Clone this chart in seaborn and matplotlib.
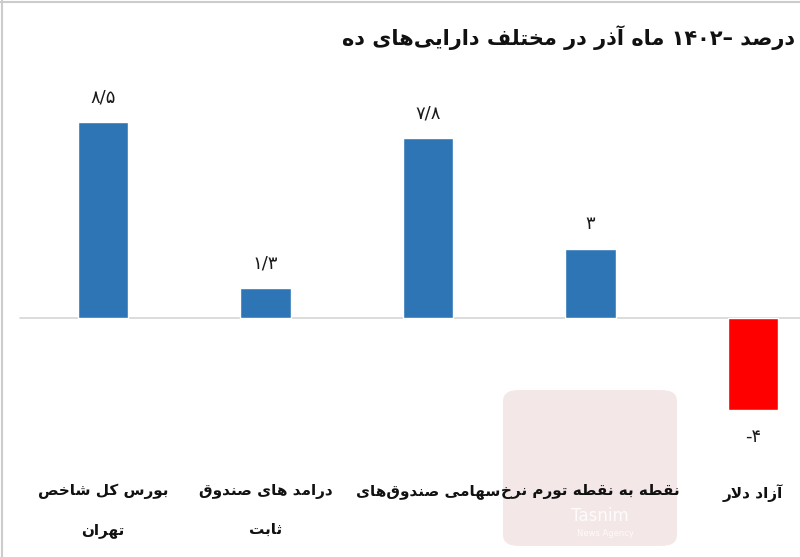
import numpy as np
import pandas as pd
import matplotlib
matplotlib.use('Agg')
import matplotlib.pyplot as plt
import seaborn as sns
from matplotlib.patches import FancyBboxPatch
from matplotlib.lines import Line2D

# داده‌ها
categories = ['شاخص کل بورس\nتهران', 'صندوق های درامد\nثابت', 'صندوق‌های سهامی',
              'نرخ تورم نقطه به نقطه', 'دلار آزاد']
values = [8.5, 1.3, 7.8, 3, -4]
value_labels = ['۸/۵', '۱/۳', '۷/۸', '۳', '-۴']
bar_colors = ['#2E75B6', '#2E75B6', '#2E75B6', '#2E75B6', '#FF0000']
title = 'ده دارایی‌های مختلف در آذر ماه ۱۴۰۲– درصد'

# شکل‌های چسبان حروف: isolated, final, initial, medial
FORMS = {
    'ا': (0xFE8D, 0xFE8E, None, None),
    'آ': (0xFE81, 0xFE82, None, None),
    'ب': (0xFE8F, 0xFE90, 0xFE91, 0xFE92),
    'ت': (0xFE95, 0xFE96, 0xFE97, 0xFE98),
    'ث': (0xFE99, 0xFE9A, 0xFE9B, 0xFE9C),
    'خ': (0xFEA5, 0xFEA6, 0xFEA7, 0xFEA8),
    'د': (0xFEA9, 0xFEAA, None, None),
    'ذ': (0xFEAB, 0xFEAC, None, None),
    'ر': (0xFEAD, 0xFEAE, None, None),
    'ز': (0xFEAF, 0xFEB0, None, None),
    'س': (0xFEB1, 0xFEB2, 0xFEB3, 0xFEB4),
    'ش': (0xFEB5, 0xFEB6, 0xFEB7, 0xFEB8),
    'ص': (0xFEB9, 0xFEBA, 0xFEBB, 0xFEBC),
    'ط': (0xFEC1, 0xFEC2, 0xFEC3, 0xFEC4),
    'ف': (0xFED1, 0xFED2, 0xFED3, 0xFED4),
    'ق': (0xFED5, 0xFED6, 0xFED7, 0xFED8),
    'ک': (0xFB8E, 0xFB8F, 0xFB90, 0xFB91),
    'ل': (0xFEDD, 0xFEDE, 0xFEDF, 0xFEE0),
    'م': (0xFEE1, 0xFEE2, 0xFEE3, 0xFEE4),
    'ن': (0xFEE5, 0xFEE6, 0xFEE7, 0xFEE8),
    'ه': (0xFEE9, 0xFEEA, 0xFEEB, 0xFEEC),
    'و': (0xFEED, 0xFEEE, None, None),
    'ی': (0xFBFC, 0xFBFD, 0xFBFE, 0xFBFF),
}
LAM_ALEF = {'ا': (0xFEFB, 0xFEFC), 'آ': (0xFEF5, 0xFEF6)}


def joins_forward(c):
    return c in FORMS and FORMS[c][2] is not None


def shape_word(w):
    out = []
    i = 0
    while i < len(w):
        c = w[i]
        if c not in FORMS:
            if c != '\u200c':
                out.append(c)
            i += 1
            continue
        jp = i > 0 and joins_forward(w[i - 1])
        if c == 'ل' and i + 1 < len(w) and w[i + 1] in LAM_ALEF:
            iso, fin = LAM_ALEF[w[i + 1]]
            out.append(chr(fin if jp else iso))
            i += 2
            continue
        jn = joins_forward(c) and i + 1 < len(w) and w[i + 1] in FORMS
        iso, fin, ini, med = FORMS[c]
        if jp and jn:
            code = med
        elif jp:
            code = fin
        elif jn:
            code = ini
        else:
            code = iso
        out.append(chr(code))
        i += 1
    s = ''.join(out)
    # فقط کلمات فارسی برعکس می‌شوند، اعداد نه
    if any(ch in FORMS for ch in w):
        s = s[::-1]
    return s


# کلمات به ترتیب چپ به راست مثل تصویر اصلی
def fa(text):
    return '\n'.join(' '.join(shape_word(w) for w in line.split(' '))
                     for line in text.split('\n'))


sns.set_theme(style='white')
plt.rcParams['font.family'] = ['DejaVu Sans']

df = pd.DataFrame({'cat': [fa(c) for c in categories], 'val': values})
palette = dict(zip(df['cat'], bar_colors))

fig = plt.figure(figsize=(8, 5.57), dpi=100)
ax = fig.add_axes([0, 1 - 460 / 557, 1, 400 / 557])

ax.axhline(0, xmin=20 / 800, xmax=1, color='#D9D9D9', lw=1.3, zorder=1)
sns.barplot(data=df, x='cat', y='val', hue='cat', palette=palette, legend=False,
            width=0.31, saturation=1, ax=ax, zorder=2)

for i, (v, lab) in enumerate(zip(values, value_labels)):
    y = v + 1.08 if v >= 0 else v - 1.16
    ax.text(i, y, lab, ha='center', va='center', fontsize=13, color='#1a1a1a')

ax.set_xlim(-103 / 162.5, (800 - 103) / 162.5)
ax.set_ylim(-(460 - 318) / 23.06, (318 - 60) / 23.06)
ax.set_xlabel('')
ax.set_ylabel('')
ax.set_yticks([])
ax.set_xticks(range(len(categories)))
ax.set_xticklabels(df['cat'], fontsize=11, fontweight='bold', linespacing=2.9,
                   color='#111111')
ax.tick_params(axis='x', length=0, pad=17)
for s in ax.spines.values():
    s.set_visible(False)
ax.patch.set_alpha(0)

fig.text(795 / 800, 1 - 38 / 557, fa(title), ha='right', va='center',
         fontsize=15, fontweight='bold', color='#111111')

# واترمارک
wm = FancyBboxPatch((503 / 800, 1 - 546 / 557), 174 / 800, 156 / 557,
                    boxstyle='round,pad=0,rounding_size=0.02', transform=fig.transFigure,
                    facecolor='#E8CACA', edgecolor='none', alpha=0.45, zorder=0)
fig.add_artist(wm)
fig.text(600 / 800, 1 - 516 / 557, 'Tasnim', ha='center', va='center', fontsize=12,
         color='white', alpha=0.85)
fig.text(605 / 800, 1 - 533 / 557, 'News Agency', ha='center', va='center', fontsize=6,
         color='white', alpha=0.85)

# حاشیه
fig.add_artist(Line2D([0.003, 0.003], [0, 1], transform=fig.transFigure, color='#CCCCCC', lw=1.5))
fig.add_artist(Line2D([0, 1], [0.997, 0.997], transform=fig.transFigure, color='#CCCCCC', lw=1.5))

fig.savefig('out.png', dpi=100)
